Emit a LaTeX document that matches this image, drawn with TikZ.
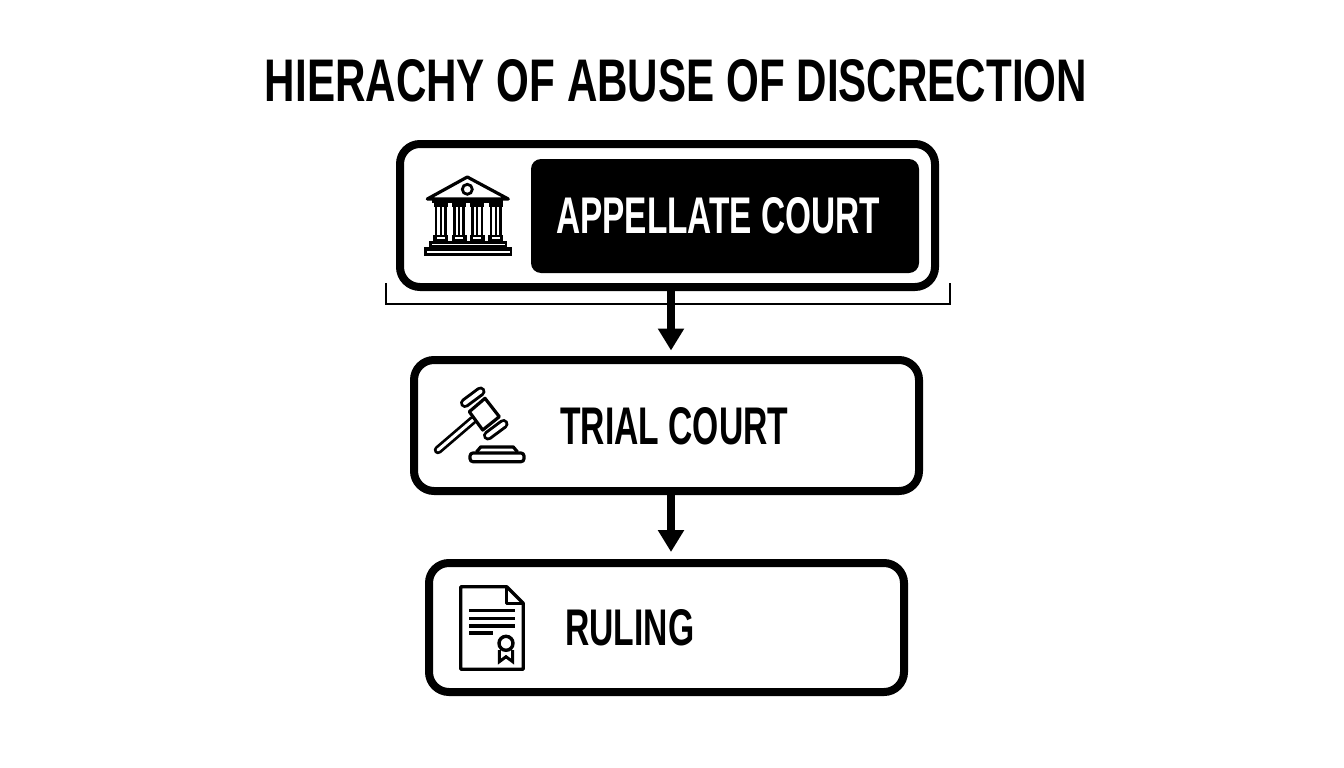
\documentclass[tikz,border=0pt]{standalone}
\usepackage{fontspec}
\usepackage{graphicx}
\setmainfont{Liberation Sans}[BoldFont={Liberation Sans Bold}]
\usetikzlibrary{arrows.meta}
\newcommand{\fitlabel}[3]{\resizebox{#1pt}{#2pt}{\bfseries #3}}
\tikzset{
  x=1pt,y=-1pt,
  tier/.style={draw=black,fill=white,line width=8pt,rounded corners=20pt,inner sep=0pt,anchor=center},
  plate/.style={fill=black,draw=none,rounded corners=10pt,inner sep=0pt,anchor=center},
  label/.style={inner sep=0pt,anchor=west},
  flow/.style={draw=black,line width=8.5pt,-{Triangle[length=22pt,width=25pt]},shorten >=5.5pt},
  iconline/.style={draw=black,line width=3.2pt,line join=round,line cap=round},
}
\begin{document}
\begin{tikzpicture}
\useasboundingbox (0,0) rectangle (1344,768);
\fill[white] (0,0) rectangle (1344,768);
\node[inner sep=0pt,anchor=center] (title) at (676,81) {\fitlabel{822}{42}{HIERACHY OF ABUSE OF DISCRECTION}};
\node[tier,minimum width=535pt,minimum height=143pt] (appellate) at (667.5,215.5) {};
\node[plate,minimum width=388pt,minimum height=114pt] (plate) at (725,216) {};
\node[label,text=white] (appellatetext) at (556,215.5) {\fitlabel{324}{36}{APPELLATE COURT}};
\node[tier,minimum width=505pt,minimum height=131pt] (trial) at (666.5,425.5) {};
\node[label] (trialtext) at (560,426.5) {\fitlabel{228}{37}{TRIAL COURT}};
\node[tier,minimum width=475pt,minimum height=129pt] (ruling) at (666.5,627.5) {};
\node[label] (rulingtext) at (565,628) {\fitlabel{129}{36}{RULING}};
% bracket
\coordinate (bl) at (385.5,283);
\coordinate (br) at (950,283);
\draw[black,line width=2pt] (bl) -- (385.5,304) -- (950,304) -- (br);
% connectors
\draw[flow] ([xshift=3.5pt]appellate.south) -- ([xshift=4.5pt]trial.north);
\draw[flow,shorten >=7pt] ([xshift=4.5pt]trial.south) -- ([xshift=4.5pt]ruling.north);
% temple icon
\draw[iconline] (467.3,177) -- (427.3,199) -- (508.3,199) -- cycle;
\draw[black,line width=2.8pt] (467.3,189.3) circle (5);
\fill[black] (432,200) rectangle (503,203);
\foreach \cx in {440.7,459,477.3,495.7}{
  \fill[black] (\cx-7,203) rectangle (\cx+7,206.5);
  \fill[black] (\cx-6,206) rectangle (\cx+6,236);
  \fill[white] (\cx-3.4,207) rectangle (\cx-1,235);
  \fill[white] (\cx+1,207) rectangle (\cx+3.4,235);
  \fill[black] (\cx-7.5,235) rectangle (\cx+7.5,241);
  \fill[white] (\cx-4,237) rectangle (\cx+4,239);
}
\fill[black] (429,241) rectangle (507,247);
\fill[white] (431.5,243.5) rectangle (504.5,245);
\fill[black] (424,247) rectangle (512,256);
\fill[white] (426.5,250.5) rectangle (509.5,253);
% gavel icon
\draw[black,line width=8.5pt,line cap=round] (473,420) -- (438,450);
\draw[white,line width=3pt,line cap=round] (473,420) -- (438,450);
\draw[iconline,fill=white] (469.3,411.7) -- (485,398.3) -- (499.3,416.7) -- (482.7,430) -- cycle;
\draw[black,line width=10pt,line cap=round] (465,403) -- (480.5,391.5);
\draw[white,line width=4pt,line cap=round] (465,403) -- (480.5,391.5);
\draw[black,line width=10pt,line cap=round] (488,435.5) -- (503.5,424);
\draw[white,line width=4pt,line cap=round] (488,435.5) -- (503.5,424);
\draw[iconline] (476.7,451.7) -- (480.7,447) -- (513.3,447) -- (517.3,451.7);
\draw[iconline,rounded corners=3pt] (470,453) rectangle (524,461.7);
% document icon
\draw[iconline] (506.7,586.7) -- (460.7,586.7) -- (460.7,669.3) -- (523.3,669.3) -- (523.3,603.3) -- cycle;
\draw[iconline] (506.7,586.7) -- (506.7,603.3) -- (523.3,603.3);
\foreach \ly in {610.7,618.3,626}{\fill[black] (469.3,\ly-1.6) rectangle (514.7,\ly+1.6);}
\fill[black] (469.3,631.4) rectangle (493.3,634.6);
\draw[black,line width=3pt,line join=miter] (499.3,650) -- (499.3,661.7) -- (506,656.7) -- (512.7,661.7) -- (512.7,650);
\draw[black,fill=white,line width=3.4pt] (506,643.3) circle (7);
\end{tikzpicture}
\end{document}
